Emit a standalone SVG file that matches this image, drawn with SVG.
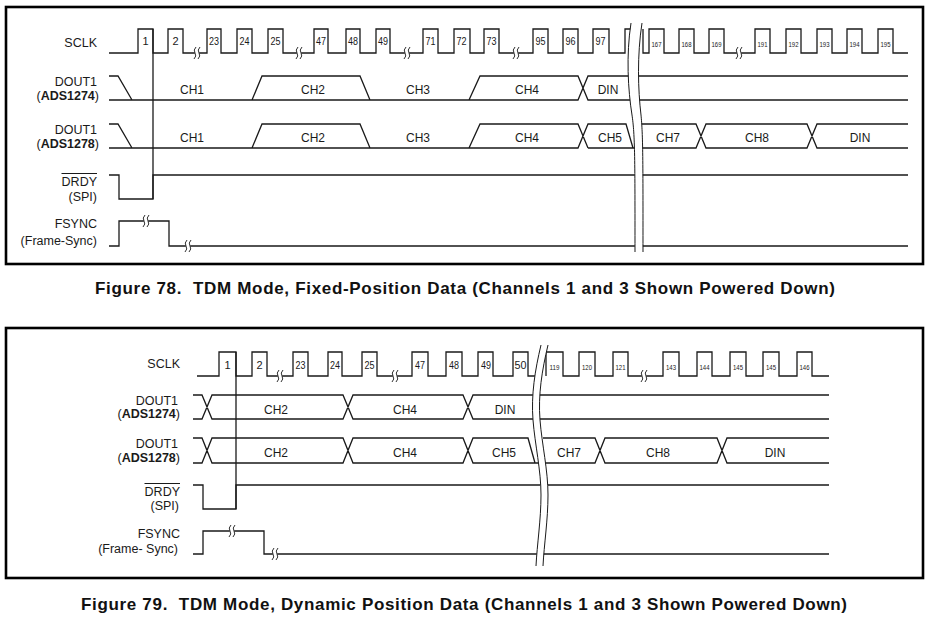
<svg xmlns="http://www.w3.org/2000/svg" width="929" height="626" viewBox="0 0 929 626">
<style>
.sig{fill:none;stroke:#1a1a1a;stroke-width:1.3;stroke-linejoin:miter}
.thin{fill:none;stroke:#1a1a1a;stroke-width:1}
.frame{fill:none;stroke:#000;stroke-width:2.6}
.lbl{font-family:"Liberation Sans",Arial,sans-serif;font-size:12.5px;fill:#1a1a1a;text-anchor:end}
.b{font-weight:bold}
.ch{font-family:"Liberation Sans",Arial,sans-serif;font-size:12px;fill:#1a1a1a;text-anchor:middle}
.n{font-family:"Liberation Sans",Arial,sans-serif;font-size:11px;fill:#1a1a1a;text-anchor:middle}
.ns{font-family:"Liberation Sans",Arial,sans-serif;font-size:7.5px;fill:#1a1a1a;text-anchor:middle}
.cap{font-family:"Liberation Sans",Arial,sans-serif;font-size:17px;font-weight:bold;fill:#111}
.gap{fill:#fff;stroke:none}
</style>
<defs>
<g id="bm"><rect x="-2.2" y="-2" width="4.4" height="4" fill="#fff"/><path d="M-1,-6 Q-4,-3 -2,0 Q0,3 -3,6 M3,-6 Q0,-3 2,0 Q4,3 1,6" fill="none" stroke="#1a1a1a" stroke-width="0.9"/></g>
</defs>
<rect x="0" y="0" width="929" height="626" fill="#fff"/>

<!-- ===== Figure 78 ===== -->
<g id="fig78">
<rect class="frame" x="6" y="7" width="917" height="257"/>

<g id="f78-sclk">
<text class="lbl" x="97" y="46.5">SCLK</text>
<path class="sig" d="M109,53 H138 V29 H153 V53 H168 V29 H183 V53 H207 V29 H221 V53 H237 V29 H252 V53 H268 V29 H283 V53 H314 V29 H328 V53 H346 V29 H360 V53 H376 V29 H390 V53 H423 V29 H438 V53 H454 V29 H470 V53 H484 V29 H499 V53 H533 V29 H548 V53 H563 V29 H578 V53 H593 V29 H609 V53 H625 V29 H640 M643,29 V53 H649 V29 H664 V53 H679 V29 H694 V53 H709 V29 H724 V53 H755 V29 H770 V53 H786 V29 H801 V53 H817 V29 H832 V53 H847 V29 H862 V53 H878 V29 H893 V53 H908"/>
<use href="#bm" x="197" y="53"/><use href="#bm" x="299" y="53"/><use href="#bm" x="407" y="53"/><use href="#bm" x="516" y="53"/><use href="#bm" x="739" y="53"/>
<text class="n" x="145.5" y="45">1</text><text class="n" x="175.5" y="45">2</text>
<text class="n" x="214" y="45" textLength="10" lengthAdjust="spacingAndGlyphs">23</text>
<text class="n" x="244.5" y="45" textLength="10" lengthAdjust="spacingAndGlyphs">24</text>
<text class="n" x="275.5" y="45" textLength="10" lengthAdjust="spacingAndGlyphs">25</text>
<text class="n" x="321" y="45" textLength="10" lengthAdjust="spacingAndGlyphs">47</text>
<text class="n" x="353" y="45" textLength="10" lengthAdjust="spacingAndGlyphs">48</text>
<text class="n" x="383" y="45" textLength="10" lengthAdjust="spacingAndGlyphs">49</text>
<text class="n" x="430.5" y="45" textLength="10" lengthAdjust="spacingAndGlyphs">71</text>
<text class="n" x="461.5" y="45" textLength="10" lengthAdjust="spacingAndGlyphs">72</text>
<text class="n" x="491.5" y="45" textLength="10" lengthAdjust="spacingAndGlyphs">73</text>
<text class="n" x="540.5" y="45" textLength="10" lengthAdjust="spacingAndGlyphs">95</text>
<text class="n" x="570.5" y="45" textLength="10" lengthAdjust="spacingAndGlyphs">96</text>
<text class="n" x="600.5" y="45" textLength="10" lengthAdjust="spacingAndGlyphs">97</text>
<text class="ns" x="656.5" y="46.5" textLength="10" lengthAdjust="spacingAndGlyphs">167</text>
<text class="ns" x="686.5" y="46.5" textLength="10" lengthAdjust="spacingAndGlyphs">168</text>
<text class="ns" x="716.5" y="46.5" textLength="10" lengthAdjust="spacingAndGlyphs">169</text>
<text class="ns" x="762.5" y="46.5" textLength="10" lengthAdjust="spacingAndGlyphs">191</text>
<text class="ns" x="793.5" y="46.5" textLength="10" lengthAdjust="spacingAndGlyphs">192</text>
<text class="ns" x="824.5" y="46.5" textLength="10" lengthAdjust="spacingAndGlyphs">193</text>
<text class="ns" x="854.5" y="46.5" textLength="10" lengthAdjust="spacingAndGlyphs">194</text>
<text class="ns" x="885.5" y="46.5" textLength="10" lengthAdjust="spacingAndGlyphs">195</text>
</g>

<g id="f78-dout1274">
<text class="lbl" x="97" y="86">DOUT1</text>
<text class="lbl" x="99" y="99.5">(<tspan class="b">ADS1274</tspan>)</text>
<path class="sig" d="M109,100 H578 L588,76 H908 M109,76 H118 L132,100 M252,100 L262,76 H360 L370,100 M469,100 L480,76 H578 L588,100 H908"/>
<text class="ch" x="192" y="94">CH1</text><text class="ch" x="313" y="94">CH2</text><text class="ch" x="418" y="94">CH3</text><text class="ch" x="527" y="94">CH4</text><text class="ch" x="608" y="94">DIN</text>
</g>

<g id="f78-dout1278">
<text class="lbl" x="97" y="134">DOUT1</text>
<text class="lbl" x="99" y="147.5">(<tspan class="b">ADS1278</tspan>)</text>
<path class="sig" d="M109,148 H578 L588,124 H626 L633,148 M588,148 H696 L706,124 H807 L817,148 H908 M109,124 H118 L132,148 M252,148 L262,124 H360 L370,148 M469,148 L480,124 H578 L588,148 M636,124 H696 L706,148 H807 L817,124 H908"/>
<text class="ch" x="192" y="141.5">CH1</text><text class="ch" x="313" y="141.5">CH2</text><text class="ch" x="418" y="141.5">CH3</text><text class="ch" x="527" y="141.5">CH4</text><text class="ch" x="610" y="141.5">CH5</text><text class="ch" x="668" y="141.5">CH7</text><text class="ch" x="757" y="141.5">CH8</text><text class="ch" x="860" y="141.5">DIN</text>
</g>

<g id="f78-drdy">
<text class="lbl" x="97" y="186">DRDY</text>
<line class="thin" x1="61.5" y1="173.5" x2="97" y2="173.5"/>
<text class="lbl" x="97" y="200.5">(SPI)</text>
<path class="sig" d="M109,175 H119 V199 H153 V175 H908"/>
</g>

<g id="f78-fsync">
<text class="lbl" x="97" y="228">FSYNC</text>
<text class="lbl" x="97" y="244.5">(Frame-Sync)</text>
<path class="sig" d="M109,246 H119 V221 H169 V246 H908"/>
<use href="#bm" x="146" y="221"/><use href="#bm" x="188" y="246"/>
</g>

<g id="f78-connectors">
<line class="sig" x1="153" y1="29" x2="153" y2="199"/>
</g>

<g id="f78-break">
<path class="gap" d="M631,23 C626,55 628,90 632,115 C635,135 635,160 635,252 L643,252 C643,160 643,135 641,115 C638,90 637,55 642,23 Z"/>
<path class="thin" d="M631,23 C626,55 628,90 632,115 C635,135 635,160 635,252 M642,23 C637,55 638,90 641,115 C643,135 643,160 643,252"/>
</g>
</g>
<text class="cap" x="95" y="293.5" textLength="740" lengthAdjust="spacing" xml:space="preserve">Figure 78.  TDM Mode, Fixed-Position Data (Channels 1 and 3 Shown Powered Down)</text>

<!-- ===== Figure 79 ===== -->
<g id="fig79">
<rect class="frame" x="6" y="328" width="917" height="250"/>

<g id="f79-sclk">
<text class="lbl" x="180" y="368">SCLK</text>
<path class="sig" d="M197,376 H219 V352 H236 V376 H252 V352 H267 V376 H293 V352 H308 V376 H328 V352 H342 V376 H362 V352 H377 V376 H412 V352 H428 V376 H446 V352 H462 V376 H478 V352 H493 V376 H513 V352 H528 V376 H540 M546,376 V352 H563 V376 H579 V352 H595 V376 H613 V352 H628 V376 H663 V352 H679 V376 H697 V352 H712 V376 H730 V352 H746 V376 H763 V352 H779 V376 H797 V352 H812 V376 H829"/>
<use href="#bm" x="280" y="376"/><use href="#bm" x="395" y="376"/><use href="#bm" x="644" y="376"/>
<text class="n" x="227.5" y="368.5">1</text><text class="n" x="259.5" y="368.5">2</text>
<text class="n" x="300.5" y="368.5" textLength="10" lengthAdjust="spacingAndGlyphs">23</text>
<text class="n" x="335" y="368.5" textLength="10" lengthAdjust="spacingAndGlyphs">24</text>
<text class="n" x="369.5" y="368.5" textLength="10" lengthAdjust="spacingAndGlyphs">25</text>
<text class="n" x="420" y="368.5" textLength="10" lengthAdjust="spacingAndGlyphs">47</text>
<text class="n" x="454" y="368.5" textLength="10" lengthAdjust="spacingAndGlyphs">48</text>
<text class="n" x="486" y="368.5" textLength="10" lengthAdjust="spacingAndGlyphs">49</text>
<text class="n" x="520.5" y="368.5" textLength="12" lengthAdjust="spacingAndGlyphs">50</text>
<text class="ns" x="554.5" y="369.5" textLength="10" lengthAdjust="spacingAndGlyphs">119</text>
<text class="ns" x="587" y="369.5" textLength="10" lengthAdjust="spacingAndGlyphs">120</text>
<text class="ns" x="620.5" y="369.5" textLength="10" lengthAdjust="spacingAndGlyphs">121</text>
<text class="ns" x="671" y="369.5" textLength="10" lengthAdjust="spacingAndGlyphs">143</text>
<text class="ns" x="704.5" y="369.5" textLength="10" lengthAdjust="spacingAndGlyphs">144</text>
<text class="ns" x="738" y="369.5" textLength="10" lengthAdjust="spacingAndGlyphs">145</text>
<text class="ns" x="771" y="369.5" textLength="10" lengthAdjust="spacingAndGlyphs">145</text>
<text class="ns" x="804.5" y="369.5" textLength="10" lengthAdjust="spacingAndGlyphs">146</text>
</g>

<g id="f79-dout1274">
<text class="lbl" x="178" y="405">DOUT1</text>
<text class="lbl" x="180" y="418">(<tspan class="b">ADS1274</tspan>)</text>
<path class="sig" d="M193,395 H202 L212,419 H343 L353,395 H463 L473,419 H829 M193,419 H202 L212,395 H343 L353,419 H463 L473,395 H829"/>
<text class="ch" x="276" y="414">CH2</text><text class="ch" x="405" y="414">CH4</text><text class="ch" x="505" y="414">DIN</text>
</g>

<g id="f79-dout1278">
<text class="lbl" x="178" y="448">DOUT1</text>
<text class="lbl" x="180" y="462">(<tspan class="b">ADS1278</tspan>)</text>
<path class="sig" d="M193,438 H202 L212,463 H343 L353,438 H463 L473,463 H595 L605,438 H717 L727,463 H829 M193,463 H202 L212,438 H343 L353,463 H463 L473,438 H528 L535,463 M543,438 H595 L605,463 H717 L727,438 H829"/>
<text class="ch" x="276" y="457">CH2</text><text class="ch" x="405" y="457">CH4</text><text class="ch" x="504" y="457">CH5</text><text class="ch" x="569" y="457">CH7</text><text class="ch" x="658" y="457">CH8</text><text class="ch" x="775" y="457">DIN</text>
</g>

<g id="f79-drdy">
<text class="lbl" x="180" y="496">DRDY</text>
<line class="thin" x1="144.5" y1="483.5" x2="180" y2="483.5"/>
<text class="lbl" x="179" y="510">(SPI)</text>
<path class="sig" d="M193,485 H203 V509 H236 V485 H829"/>
</g>

<g id="f79-fsync">
<text class="lbl" x="180" y="537.5">FSYNC</text>
<text class="lbl" x="178" y="553">(Frame- Sync)</text>
<path class="sig" d="M193,554 H203 V531 H264 V554 H829"/>
<use href="#bm" x="232" y="531"/><use href="#bm" x="275" y="554"/>
</g>

<g id="f79-connectors">
<line class="sig" x1="236" y1="352" x2="236" y2="509"/>
</g>

<g id="f79-break">
<path class="gap" d="M541,345 C535,370 531,395 533,420 C535,445 541,470 541,495 C541,520 537,545 536,566 L543,566 C544,545 548,520 548,495 C548,470 542,445 540,420 C538,395 542,370 548,345 Z"/>
<path class="thin" d="M541,345 C535,370 531,395 533,420 C535,445 541,470 541,495 C541,520 537,545 536,566 M548,345 C542,370 538,395 540,420 C542,445 548,470 548,495 C548,520 544,545 543,566"/>
</g>
</g>
<text class="cap" x="81" y="610" textLength="766" lengthAdjust="spacing" xml:space="preserve">Figure 79.  TDM Mode, Dynamic Position Data (Channels 1 and 3 Shown Powered Down)</text>
</svg>
